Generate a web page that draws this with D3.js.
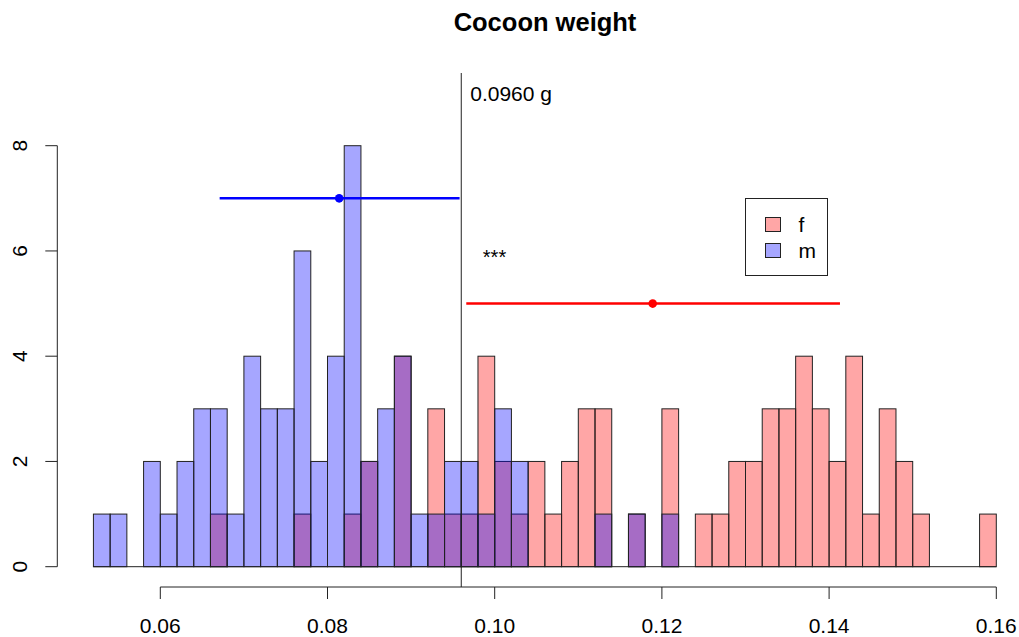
<!DOCTYPE html>
<html>
<head>
<meta charset="utf-8">
<script src="https://cdn.jsdelivr.net/npm/d3@7"></script>
<style>
  body { margin: 0; background: #fff; }
  text { font-family: "Liberation Sans", Arial, sans-serif; fill: #000; }
</style>
</head>
<body>
<div id="chart"></div>
<script>
// histogram bins: width 0.002 from 0.052 to 0.160
var binStart = 0.052, binWidth = 0.002;
var countsF = [0, 0, 0, 0, 0, 0, 0, 1, 0, 0, 0, 0, 1, 0, 0, 1, 2, 0, 4, 0,
               3, 1, 1, 4, 2, 1, 2, 1, 2, 3, 3, 0, 1, 0, 3, 0, 1, 1, 2, 2,
               3, 3, 4, 3, 2, 4, 1, 3, 2, 1, 0, 0, 0, 1];
var countsM = [1, 1, 0, 2, 1, 2, 3, 3, 1, 4, 3, 3, 6, 2, 4, 8, 2, 3, 4, 1,
               1, 2, 2, 1, 3, 2, 0, 0, 0, 0, 1, 0, 1, 0, 1, 0, 0, 0, 0, 0,
               0, 0, 0, 0, 0, 0, 0, 0, 0, 0, 0, 0, 0, 0];

var groups = ["f", "m"];
// mean and interval shown as horizontal segments
var meanF = 0.1189, loF = 0.0966, hiF = 0.1413, levelF = 5;
var meanM = 0.0814, loM = 0.0671, hiM = 0.0958, levelM = 7;
var threshold = 0.0960;

var xTicks = [0.06, 0.08, 0.10, 0.12, 0.14, 0.16];
var yTicks = [0, 2, 4, 6, 8];

var width = 1019, height = 637;
var plotTop = 73, plotBottom = 587;

var color = d3.scaleOrdinal()
  .domain(groups)
  .range(["rgba(255,0,0,0.35)", "rgba(0,0,255,0.35)"]);

var x = d3.scaleLinear().domain([0.06, 0.16]).range([160.3, 996.3]);
var y = d3.scaleLinear().domain([0, 8]).range([566.7, 145.7]);

var svg = d3.select("#chart")
  .append("svg")
  .attr("width", width)
  .attr("height", height);

svg.append("rect").attr("width", width).attr("height", height).attr("fill", "#fff");

function bins(counts) {
  return counts.map(function (c, i) {
    return { x0: binStart + i * binWidth, x1: binStart + (i + 1) * binWidth, n: c };
  });
}

// baseline under the bins (zero-height bars)
svg.append("line")
  .attr("x1", x(binStart))
  .attr("x2", x(binStart + countsF.length * binWidth))
  .attr("y1", y(0)).attr("y2", y(0))
  .attr("stroke", "#222").attr("stroke-width", 1);

[["f", countsF], ["m", countsM]].forEach(function (g) {
  svg.append("g")
    .selectAll("rect")
    .data(bins(g[1]).filter(function (d) { return d.n > 0; }))
    .enter().append("rect")
    .attr("x", function (d) { return x(d.x0); })
    .attr("width", function (d) { return x(d.x1) - x(d.x0); })
    .attr("y", function (d) { return y(d.n); })
    .attr("height", function (d) { return y(0) - y(d.n); })
    .attr("fill", color(g[0]))
    .attr("stroke", "#222")
    .attr("stroke-width", 1);
});

// threshold line
svg.append("line")
  .attr("x1", x(threshold)).attr("x2", x(threshold))
  .attr("y1", plotTop).attr("y2", plotBottom)
  .attr("stroke", "#222").attr("stroke-width", 1);

svg.append("text")
  .attr("x", x(threshold) + 9)
  .attr("y", 101)
  .style("font-size", "21px")
  .text(threshold.toFixed(4) + " g");

// mean +/- interval segments
[[loM, hiM, meanM, levelM, "#0000ff"], [loF, hiF, meanF, levelF, "#ff0000"]].forEach(function (s) {
  svg.append("line")
    .attr("x1", x(s[0])).attr("x2", x(s[1]))
    .attr("y1", y(s[3])).attr("y2", y(s[3]))
    .attr("stroke", s[4]).attr("stroke-width", 2.5);
  svg.append("circle")
    .attr("cx", x(s[2])).attr("cy", y(s[3]))
    .attr("r", 4.3)
    .attr("fill", s[4]);
});

svg.append("text")
  .attr("x", 494.5)
  .attr("y", 264)
  .style("text-anchor", "middle")
  .style("font-size", "20px")
  .text("***");

// x axis
var xAxis = svg.append("g").attr("transform", "translate(0," + plotBottom + ")");
xAxis.append("line")
  .attr("x1", x(xTicks[0])).attr("x2", x(xTicks[xTicks.length - 1]))
  .attr("stroke", "#222");
xAxis.selectAll("line.tick")
  .data(xTicks).enter().append("line")
  .attr("class", "tick")
  .attr("x1", function (d) { return x(d); }).attr("x2", function (d) { return x(d); })
  .attr("y1", 0).attr("y2", 12)
  .attr("stroke", "#222");
xAxis.selectAll("text")
  .data(xTicks).enter().append("text")
  .attr("x", function (d) { return x(d); })
  .attr("y", 46)
  .style("text-anchor", "middle")
  .style("font-size", "21px")
  .text(function (d) { return d.toFixed(2); });

// y axis
var yAxis = svg.append("g").attr("transform", "translate(57.3,0)");
yAxis.append("line")
  .attr("y1", y(yTicks[0])).attr("y2", y(yTicks[yTicks.length - 1]))
  .attr("stroke", "#222");
yAxis.selectAll("line.tick")
  .data(yTicks).enter().append("line")
  .attr("class", "tick")
  .attr("y1", function (d) { return y(d); }).attr("y2", function (d) { return y(d); })
  .attr("x1", 0).attr("x2", -12)
  .attr("stroke", "#222");
yAxis.selectAll("text")
  .data(yTicks).enter().append("text")
  .attr("transform", function (d) { return "translate(-30," + y(d) + ") rotate(-90)"; })
  .style("text-anchor", "middle")
  .style("font-size", "21px")
  .text(function (d) { return d; });

// title
svg.append("text")
  .attr("x", 545)
  .attr("y", 31)
  .style("text-anchor", "middle")
  .style("font-size", "25.5px")
  .style("font-weight", "bold")
  .text("Cocoon weight");

// legend
var legend = svg.append("g").attr("transform", "translate(745.5,198.5)");
legend.append("rect")
  .attr("width", 82).attr("height", 77)
  .attr("fill", "#fff").attr("stroke", "#222").attr("stroke-width", 1);
var items = legend.selectAll(".legend-item")
  .data(groups).enter().append("g")
  .attr("class", "legend-item")
  .attr("transform", function (d, i) { return "translate(0," + (i * 26) + ")"; });
items.append("rect")
  .attr("x", 20).attr("y", 19)
  .attr("width", 15).attr("height", 14)
  .attr("fill", function (d) { return color(d); })
  .attr("stroke", "#222");
items.append("text")
  .attr("x", 53).attr("y", 33)
  .style("font-size", "21px")
  .text(function (d) { return d; });
</script>
</body>
</html>
